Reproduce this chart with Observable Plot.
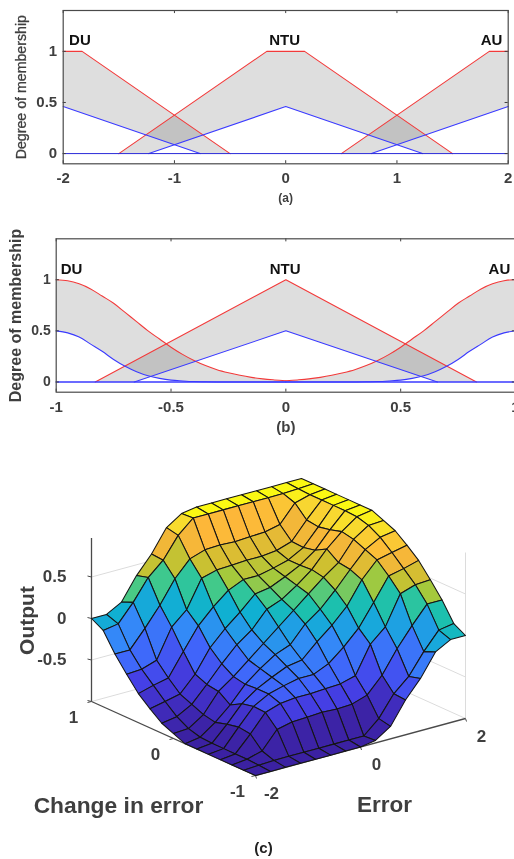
<!DOCTYPE html>
<html>
<head>
<meta charset="utf-8">
<script src="https://cdn.jsdelivr.net/npm/d3@7"></script>
<script src="https://cdn.jsdelivr.net/npm/@observablehq/plot@0.6"></script>
<style>
html,body{margin:0;padding:0;background:#fff;width:514px;height:859px;overflow:hidden}
svg{display:block;filter:blur(0.35px)}
</style>
</head>
<body>
<div id="chart"></div>
<script>
const FONT = "Liberation Sans";
const INK = "#3f3f3f";
const RED = "#f23a3a";
const BLUE = "#3a3aff";
const mfNames = ["DU", "NTU", "AU"];

// panel (a): type-2 trapezoid / triangle memberships
const aUpperDU = [[-2, 1], [-1.83, 1], [-0.5, 0]];
const aLowerDU = [[-2, 0.46], [-0.77, 0]];
const aUpperNTU = [[-1.5, 0], [-0.17, 1], [0.17, 1], [1.5, 0]];
const aLowerNTU = [[-1.23, 0], [0, 0.46], [1.23, 0]];
const aUpperAU = [[0.5, 0], [1.83, 1], [2, 1]];
const aLowerAU = [[0.77, 0], [2, 0.46]];
const aXTicks = [-2, -1, 0, 1, 2];
const aLabelX = [-1.85, -0.01, 1.85];

// panel (b): bell-shaped shoulders and triangles
const bBellX = [-1, -0.95, -0.9, -0.85, -0.8, -0.75, -0.7, -0.65, -0.6, -0.55, -0.5, -0.45, -0.4, -0.35, -0.3, -0.25, -0.2, -0.15, -0.1, -0.05, 0];
const bUpperBell = [1, 0.99, 0.96, 0.91, 0.84, 0.77, 0.68, 0.59, 0.5, 0.42, 0.34, 0.27, 0.21, 0.16, 0.12, 0.09, 0.065, 0.045, 0.03, 0.02, 0.012];
const bLowerBell = [0.5, 0.48, 0.44, 0.37, 0.3, 0.22, 0.153, 0.1, 0.06, 0.035, 0.018, 0.01, 0.004, 0.002, 0, 0, 0, 0, 0, 0, 0];
const bUpperNTU = [[-0.83, 0], [0, 1], [0.83, 0]];
const bLowerNTU = [[-0.66, 0], [0, 0.5], [0.66, 0]];
const bXTicks = [-1, -0.5, 0, 0.5, 1];
const bLabelX = [-0.933, -0.003, 0.93];

const yTicks = [0, 0.5, 1];

// panel (c): output surface, rows from change in error = 1 down to -1, columns error -2 to 2
const zRows = [
  [0, 0, 0.1, 0.37, 0.58, 0.85, 0.97, 1, 1, 1, 1, 1, 1, 1, 1],
  [-0.08, -0.05, 0.16, 0.41, 0.57, 0.82, 0.98, 0.98, 0.98, 0.98, 0.98, 0.98, 0.98, 0.99, 1],
  [-0.3, -0.3, -0.09, 0.14, 0.41, 0.6, 0.66, 0.67, 0.66, 0.67, 0.68, 0.72, 0.93, 0.98, 1],
  [-0.48, -0.47, -0.41, -0.06, 0.1, 0.43, 0.48, 0.49, 0.5, 0.5, 0.52, 0.58, 0.79, 0.98, 1],
  [-0.65, -0.6, -0.56, -0.29, -0.03, 0.15, 0.3, 0.38, 0.38, 0.42, 0.47, 0.57, 0.77, 0.98, 1],
  [-0.77, -0.73, -0.69, -0.5, -0.23, -0.05, 0.1, 0.27, 0.3, 0.38, 0.47, 0.6, 0.8, 0.98, 1],
  [-0.88, -0.85, -0.75, -0.56, -0.36, -0.18, -0.05, 0.15, 0.22, 0.34, 0.48, 0.68, 0.84, 0.97, 1],
  [-0.94, -0.93, -0.81, -0.58, -0.45, -0.3, -0.15, 0, 0.15, 0.3, 0.45, 0.58, 0.81, 0.93, 0.94],
  [-1, -0.97, -0.84, -0.68, -0.48, -0.34, -0.22, -0.15, 0.05, 0.18, 0.36, 0.56, 0.75, 0.85, 0.88],
  [-1, -0.98, -0.8, -0.6, -0.47, -0.38, -0.3, -0.27, -0.1, 0.05, 0.23, 0.5, 0.69, 0.73, 0.77],
  [-1, -0.98, -0.77, -0.57, -0.47, -0.42, -0.38, -0.38, -0.3, -0.15, 0.03, 0.29, 0.56, 0.6, 0.65],
  [-1, -0.98, -0.79, -0.58, -0.52, -0.5, -0.5, -0.49, -0.48, -0.43, -0.1, 0.06, 0.41, 0.47, 0.48],
  [-1, -0.98, -0.93, -0.72, -0.68, -0.67, -0.66, -0.67, -0.66, -0.6, -0.41, -0.14, 0.09, 0.3, 0.3],
  [-1, -0.99, -0.98, -0.98, -0.98, -0.98, -0.98, -0.98, -0.98, -0.82, -0.57, -0.41, -0.16, 0.05, 0.08],
  [-1, -1, -1, -1, -1, -1, -1, -1, -0.97, -0.85, -0.58, -0.37, -0.1, 0, 0]
];
const colorStops = [-1, -0.8, -0.65, -0.5, -0.3, -0.15, -0.05, 0.05, 0.15, 0.3, 0.45, 0.55, 0.65, 0.8, 1];
const colorRange = ["#3b21a2", "#4130c6", "#4540e6", "#4064fa", "#3488f8", "#1f9fe4", "#10b0d2", "#1cc0ae", "#42c98a", "#a5c93c", "#cfc030", "#eeb838", "#fdb53a", "#f8d830", "#fbfb10"];
const errorTicks = [-2, 0, 2];
const changeTicks = [-1, 0, 1];
const outputTicks = [-0.5, 0, 0.5];

// ---------- membership panels ----------
const pts = a => a.map(([x, y]) => ({x, y}));
const curveOf = a => a.length > 4 ? "catmull-rom" : "linear";

function membershipPanel(cfg) {
  const {xDomain, polygons, reds, blues} = cfg;
  const [x0, x1] = xDomain;
  const y0 = -0.1, y1 = 1.4;
  const xTick = (x1 - x0) * 0.007;
  const polyData = polygons.flatMap((p, k) => p.map(([x, y]) => ({x, y, k})));
  return Plot.plot({
    width: 514, height: cfg.height,
    marginLeft: cfg.left, marginRight: cfg.right, marginTop: cfg.top, marginBottom: cfg.bottom,
    x: {domain: xDomain}, y: {domain: [y0, y1]},
    style: {background: "transparent", overflow: "hidden"},
    marks: [
      Plot.line(polyData, {x: "x", y: "y", z: "k", fill: "#000", fillOpacity: 0.13, stroke: "none"}),
      ...reds.map(r => Plot.line(pts(r), {x: "x", y: "y", stroke: RED, strokeWidth: 1.1, curve: curveOf(r)})),
      ...blues.map(b => Plot.line(pts(b), {x: "x", y: "y", stroke: BLUE, strokeWidth: 1.1, curve: curveOf(b)})),
      Plot.ruleY([0], {x1: x0, x2: x1, stroke: cfg.base, strokeWidth: cfg.baseWidth}),
      Plot.ruleX(cfg.xTicks, {y1: y0, y2: y0 + 0.03, stroke: INK, strokeWidth: 1}),
      Plot.ruleX(cfg.xTicks, {y1: y1 - 0.03, y2: y1, stroke: INK, strokeWidth: 1}),
      Plot.ruleY(yTicks, {x1: x0, x2: x0 + xTick, stroke: INK, strokeWidth: 1}),
      Plot.ruleY(yTicks, {x1: x1 - xTick, x2: x1, stroke: INK, strokeWidth: 1}),
      Plot.frame({stroke: "#4a4a4a", strokeWidth: 1.2}),
      Plot.axisX(cfg.xTicks, {anchor: "bottom", tickSize: 0, tickPadding: cfg.xPad, label: null, tickFormat: d => String(d), fontFamily: FONT, fontSize: 15, fontWeight: 700, fill: INK}),
      Plot.axisY(yTicks, {anchor: "left", tickSize: 0, tickPadding: cfg.yPad, label: null, tickFormat: d => String(d), fontFamily: FONT, fontSize: cfg.yFont, fontWeight: 700, fill: INK}),
      Plot.text(mfNames, {x: (d, i) => cfg.labelX[i], y: () => 1.105, text: d => d, fontFamily: FONT, fontSize: 15, fontWeight: 700, fill: "#111"}),
      Plot.text(["Degree of membership"], {frameAnchor: "left", dx: cfg.titleDx, rotate: -90, textAnchor: "middle", fontFamily: FONT, fontSize: cfg.titleFont, fontWeight: cfg.titleWeight, fill: INK, stroke: INK, strokeWidth: cfg.titleStroke}),
      Plot.text([cfg.caption], {frameAnchor: "bottom", textAnchor: "middle", lineAnchor: "middle", dy: cfg.capDy, fontFamily: FONT, fontSize: cfg.capFont, fontWeight: 700, fill: INK})
    ]
  });
}

const polyOf = (up, lo) => [...up, ...lo.slice().reverse()];
const plotA = membershipPanel({
  xDomain: [-2, 2], height: 212, left: 62.7, right: 6.3, top: 10, bottom: 48.7,
  polygons: [polyOf(aUpperDU, aLowerDU), polyOf(aUpperNTU, aLowerNTU), polyOf(aUpperAU, aLowerAU)],
  reds: [aUpperDU, aUpperNTU, aUpperAU], blues: [aLowerDU, aLowerNTU, aLowerAU],
  base: "#2a2ad8", baseWidth: 1, xTicks: aXTicks, labelX: aLabelX, xPad: 9, yPad: 6, yFont: 15,
  titleDx: -41.7, titleFont: 14.2, titleWeight: 400, titleStroke: 0.3, caption: "(a)", capDy: 34.7, capFont: 12
});

const bDUUp = bBellX.map((x, i) => [x, bUpperBell[i]]);
const bDULo = bBellX.map((x, i) => [x, bLowerBell[i]]);
const bAUUp = bDUUp.map(([x, y]) => [-x, y]).reverse();
const bAULo = bDULo.map(([x, y]) => [-x, y]).reverse();
const plotB = membershipPanel({
  xDomain: [-1, 1], height: 228, left: 55.7, right: -1, top: 26.3, bottom: 48.3,
  polygons: [polyOf(bDUUp, bDULo), polyOf(bUpperNTU, bLowerNTU), polyOf(bAUUp, bAULo)],
  reds: [bDUUp, bUpperNTU, bAUUp], blues: [bDULo, bLowerNTU, bAULo],
  base: BLUE, baseWidth: 1.4, xTicks: bXTicks, labelX: bLabelX, xPad: 9, yPad: 5.5, yFont: 14,
  titleDx: -40.7, titleFont: 16, titleWeight: 700, titleStroke: 0, caption: "(b)", capDy: 35, capFont: 15
});

// ---------- surface panel ----------
const view = {ox: 255, oy: 775, ex: 52.5, ey: -14.25, cx: -82, cy: -37, zy: -83};
const px = (e, c) => view.ox + (e + 2) * view.ex + (c + 1) * view.cx;
const py = (e, c, z) => view.oy + (e + 2) * view.ey + (c + 1) * view.cy + (z + 1) * view.zy;
const P = (e, c, z) => ({x: px(e, c), y: py(e, c, z)});

const n = zRows.length - 1;
const eOf = i => -2 + 4 * i / n;
const cOf = j => -1 + 2 * j / n;
const zAt = (i, j) => zRows[n - j][i];

const cells = [];
for (let j = 0; j < n; j++) for (let i = 0; i < n; i++) cells.push({i, j});
cells.sort((a, b) => (b.i * 0.82 + b.j) - (a.i * 0.82 + a.j));
const quadPts = cells.flatMap(({i, j}, k) =>
  [[i, j], [i + 1, j], [i + 1, j + 1], [i, j + 1], [i, j]].map(([a, b]) => ({
    ...P(eOf(a), cOf(b), zAt(a, b)), k, v: zAt(i, j)
  })));

const wallLines = [
  ...[-1, -0.5, 0, 0.5].flatMap(z => [
    {a: P(-2, 1, z), b: P(2, 1, z)},
    {a: P(2, -1, z), b: P(2, 1, z)}
  ]),
  {a: P(2, -1, -1), b: P(2, -1, 1)},
  {a: P(2, 1, -1), b: P(2, 1, 1)}
];
const darkLines = [
  {a: P(-2, 1, -1), b: P(-2, 1, 0.97)},
  {a: P(-2, 1, -1), b: P(-2, -1, -1)},
  {a: P(-2, -1, -1), b: P(2, -1, -1)}
];
const rule = (data, o) => Plot.link(data, {x1: d => d.a.x, y1: d => d.a.y, x2: d => d.b.x, y2: d => d.b.y, ...o});
const tickStyle = {fontFamily: FONT, fontSize: 17, fontWeight: 700, fill: INK};
const plotC = Plot.plot({
  width: 514, height: 419, margin: 0,
  x: {domain: [0, 514], range: [0, 514], axis: null},
  y: {domain: [440, 859], range: [0, 419], axis: null},
  color: {type: "linear", domain: colorStops, range: colorRange, interpolate: "rgb"},
  style: {background: "transparent"},
  marks: [
    rule(wallLines, {stroke: "#dcdcdc", strokeWidth: 1}),
    rule(darkLines, {stroke: "#4a4a4a", strokeWidth: 1.3}),
    rule(outputTicks.concat([-1]).map(z => ({a: P(-2, 1, z), b: {x: P(-2, 1, z).x - 4, y: P(-2, 1, z).y - 1}})), {stroke: "#4a4a4a", strokeWidth: 1}),
    rule([-1, 0, 1].map(c => ({a: P(-2, c, -1), b: {x: P(-2, c, -1).x - 4, y: P(-2, c, -1).y + 1}})), {stroke: "#4a4a4a", strokeWidth: 1}),
    rule([-2, 0, 2].map(e => ({a: P(e, -1, -1), b: {x: P(e, -1, -1).x + 1, y: P(e, -1, -1).y + 3}})), {stroke: "#4a4a4a", strokeWidth: 1}),
    Plot.line(quadPts, {x: "x", y: "y", z: "k", fill: "v", stroke: "#151515", strokeWidth: 1.05, strokeLinejoin: "round"}),
    Plot.text(outputTicks, {x: z => P(-2, 1, z).x, y: z => P(-2, 1, z).y, dx: -25, textAnchor: "end", text: d => String(d), ...tickStyle}),
    Plot.text(changeTicks, {x: c => P(-2, c, -1).x, y: c => P(-2, c, -1).y, dx: -18, dy: 16, text: d => String(d), ...tickStyle}),
    Plot.text(errorTicks, {x: e => P(e, -1, -1).x, y: e => P(e, -1, -1).y, dx: 16, dy: 18, text: d => String(d), ...tickStyle}),
    Plot.text(["Output"], {x: () => P(-2, 1, 0).x, y: () => P(-2, 1, 0).y, dx: -64, dy: 2, rotate: -90, fontFamily: FONT, fontSize: 21, fontWeight: 700, fill: INK}),
    Plot.text(["Change in error"], {x: () => P(-2, 0, -1).x, y: () => P(-2, 0, -1).y, dx: -55, dy: 67, fontFamily: FONT, fontSize: 22.8, fontWeight: 700, fill: INK}),
    Plot.text(["Error"], {x: () => P(0, -1, -1).x, y: () => P(0, -1, -1).y, dx: 24, dy: 58, fontFamily: FONT, fontSize: 22.5, fontWeight: 700, fill: INK}),
    Plot.text(["(c)"], {frameAnchor: "bottom", dx: 6, dy: -11, textAnchor: "middle", lineAnchor: "middle", fontFamily: FONT, fontSize: 15, fontWeight: 700, fill: "#222"})
  ]
});

document.getElementById("chart").append(plotA, plotB, plotC);
</script>
</body>
</html>
